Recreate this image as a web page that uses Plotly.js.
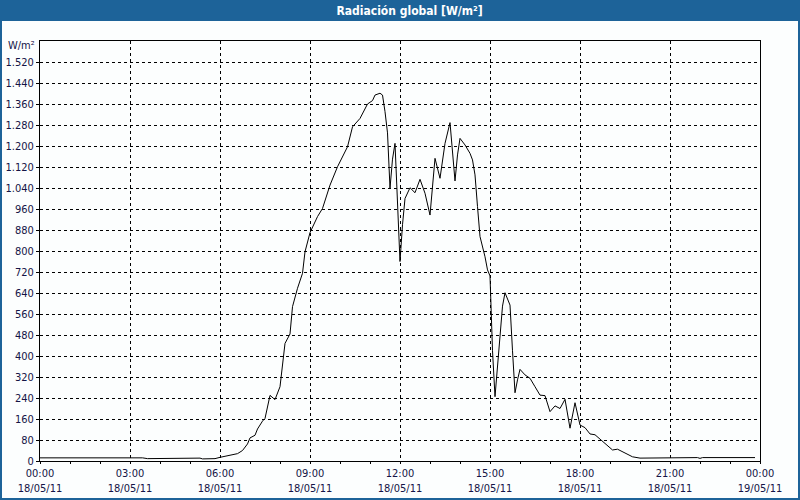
<!DOCTYPE html>
<html>
<head>
<meta charset="utf-8">
<script src="https://cdn.plot.ly/plotly-3.0.1.min.js"></script>
<style>
html,body{margin:0;padding:0;background:#1d6399;}
#chart{width:800px;height:500px;}
</style>
</head>
<body>
<div id="chart"></div>
<script>
const chartTitle = "Radiación global [W/m²]";
const unitLabel = "W/m²";
const day = "2011-05-18";

const times = ["00:00","01:00","02:00","03:00","03:25","03:35","04:30","04:35","05:20","05:25","05:50",
  "06:00","06:10","06:20","06:35","06:45","06:55","07:00","07:10","07:15","07:25","07:30","07:40","07:50",
  "08:00","08:05","08:10","08:20","08:25","08:35","08:45","08:50","09:00","09:15","09:25","09:40","09:55",
  "10:15","10:25","10:40","10:55","11:05","11:10","11:20","11:25","11:30","11:35","11:40","11:45","11:50","11:55",
  "12:00","12:05","12:10","12:20","12:30","12:40","12:50","13:00","13:05","13:10","13:20","13:30","13:40","13:45","13:50","13:55",
  "14:00","14:10","14:20","14:25","14:30","14:35","14:40","14:50","14:55",
  "15:00","15:05","15:10","15:15","15:20","15:25","15:30","15:40","15:45","15:50","15:55",
  "16:00","16:10","16:20","16:30","16:40","16:50","17:00","17:10","17:20","17:30","17:40","17:50",
  "18:00","18:10","18:20","18:30","18:45","19:05","19:15","19:30","19:45","20:00","20:20","20:25",
  "21:55","22:00","22:05","23:50"];
const values = [12,12,12,12,12,9,9,11,11,8,9,
  14,17,22,28,40,65,88,98,122,152,162,250,234,
  283,359,448,484,588,658,715,797,870,931,962,1051,1121,
  1197,1273,1305,1360,1373,1394,1401,1394,1331,1250,1039,1150,1210,990,
  760,900,1000,1041,1022,1073,1020,937,1032,1153,1077,1210,1289,1185,1067,1166,
  1229,1204,1172,1147,1090,969,855,778,728,
  705,420,245,370,486,590,641,594,420,260,309,
  349,328,315,283,251,249,188,210,200,235,125,222,
  137,127,103,100,74,42,45,32,16,11,11,13,
  13,10,13,13];

const tickTimes = ["2011-05-18 00:00","2011-05-18 03:00","2011-05-18 06:00","2011-05-18 09:00","2011-05-18 12:00",
  "2011-05-18 15:00","2011-05-18 18:00","2011-05-18 21:00","2011-05-19 00:00"];
const tickLabels = ["00:00<br>18/05/11","03:00<br>18/05/11","06:00<br>18/05/11","09:00<br>18/05/11","12:00<br>18/05/11",
  "15:00<br>18/05/11","18:00<br>18/05/11","21:00<br>18/05/11","00:00<br>19/05/11"];
const yTicks = [0,80,160,240,320,400,480,560,640,720,800,880,960,1040,1120,1200,1280,1360,1440,1520];

const xs = times.map(t => day + " " + t);
const font = "DejaVu Sans Condensed, DejaVu Sans, sans-serif";
const labelColor = "#141446";

const trace = {
  x: xs, y: values, type: "scatter", mode: "lines",
  line: {color: "#000000", width: 1}, hoverinfo: "x+y"
};

const layout = {
  width: 800, height: 500,
  margin: {l: 40, r: 40, t: 41, b: 39},
  paper_bgcolor: "#1d6399",
  plot_bgcolor: "#ffffff",
  separators: ",.",
  showlegend: false,
  font: {family: font, size: 11, color: labelColor},
  title: {text: chartTitle, font: {family: font, size: 12, color: "#ffffff", weight: "bold"},
    x: 0.512, xref: "container", xanchor: "center", y: 1 - 10.5/500, yref: "container", yanchor: "middle"},
  xaxis: {
    type: "date",
    range: ["2011-05-18 00:00", "2011-05-19 00:00"],
    tickmode: "array", tickvals: tickTimes, ticktext: tickLabels,
    ticks: "outside", ticklen: 2, tickcolor: "#000",
    minor: {dtick: 3600000, ticks: "outside", ticklen: 2, tickcolor: "#000", showgrid: false},
    showgrid: true, gridcolor: "#000", gridwidth: 1, griddash: "3px,3px",
    showline: true, linecolor: "#000", linewidth: 1, mirror: true,
    zeroline: false, tickfont: {family: font, size: 11, color: labelColor},
    fixedrange: true
  },
  yaxis: {
    range: [0, 1600],
    tickmode: "array", tickvals: yTicks,
    separatethousands: true, tickformat: ",d",
    ticks: "outside", ticklen: 3, tickcolor: "#000",
    showgrid: true, gridcolor: "#000", gridwidth: 1, griddash: "3px,3px",
    showline: true, linecolor: "#000", linewidth: 1, mirror: true,
    zeroline: false, tickfont: {family: font, size: 11, color: labelColor},
    fixedrange: true
  },
  shapes: [{
    type: "rect", xref: "paper", yref: "paper", layer: "below",
    x0: (2 - 40) / 720, x1: (798 - 40) / 720,
    y0: (461 - 498) / 420, y1: (461 - 21) / 420,
    fillcolor: "#fcfefe", line: {width: 0}
  }],
  annotations: [{
    text: unitLabel, xref: "paper", yref: "paper",
    x: (37 - 40) / 720, y: (461 - 46) / 420, xanchor: "right", yanchor: "middle",
    showarrow: false, font: {family: font, size: 11, color: labelColor}
  }]
};

Plotly.newPlot("chart", [trace], layout, {displayModeBar: false, staticPlot: true});
</script>
</body>
</html>
